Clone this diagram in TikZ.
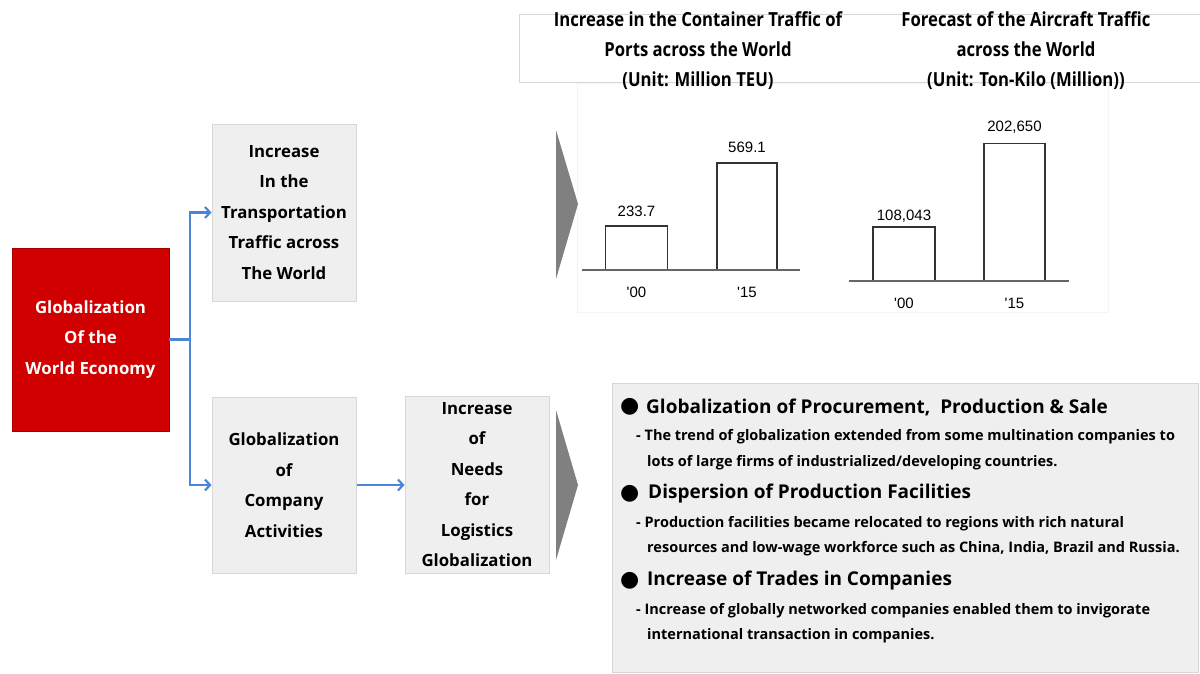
\documentclass[tikz,border=0pt]{standalone}
\usepackage{fontspec}
\setmainfont{Open Sans}
\newfontfamily\numfont{Liberation Sans}
\newfontfamily\symfont{DejaVu Sans}
\newfontfamily\condfont[FakeStretch=0.86]{Open Sans}
\usetikzlibrary{arrows.meta}
\definecolor{redbox}{RGB}{208,0,0}
\definecolor{boxfill}{RGB}{239,239,239}
\definecolor{boxline}{RGB}{215,215,215}
\definecolor{arrowblue}{RGB}{74,134,216}
\definecolor{trigray}{RGB}{128,128,128}
\begin{document}
\begin{tikzpicture}[x=1pt,y=-1pt,
  graybox/.style={draw=boxline, fill=boxfill, line width=1pt, inner sep=0pt,
    minimum width=144pt, align=center,
    font=\bfseries\fontsize{16.8}{30.5}\selectfont},
  redbx/.style={fill=redbox, draw=redbox!80!black, line width=0.5pt, inner sep=0pt,
    minimum width=157pt, minimum height=183pt, align=center, text=white,
    font=\bfseries\fontsize{16.8}{30.5}\selectfont},
  bluearrow/.style={draw=arrowblue, line width=2.2pt, -{Straight Barb[length=5pt,width=11pt,line width=2.2pt]}},
  bluewire/.style={draw=arrowblue, line width=2.2pt},
  arrowtri/.style={fill=trigray, draw=none},
  bar/.style={draw=black!80, line width=1.3pt, fill=white},
  axisline/.style={draw=black!60, line width=2pt},
  numlabel/.style={font=\numfont\fontsize{15}{16}\selectfont, inner sep=0pt},
  charttitle/.style={font=\condfont\bfseries\fontsize{19.4}{30}\selectfont, align=center, inner sep=0pt},
  heading/.style={anchor=west, inner sep=0pt, font=\bfseries\fontsize{19}{20}\selectfont},
  subline/.style={anchor=west, inner sep=0pt, font=\bfseries\fontsize{14.5}{15}\selectfont},
  bulletsym/.style={anchor=west, inner sep=0pt, font=\symfont\fontsize{22}{22}\selectfont}
]
\useasboundingbox (0,0) rectangle (1200,673);

% ---------- left flow ----------
\node[redbx] (globe) at (90.5,339.5) {Globalization\\Of the\\World Economy};
\node[graybox, minimum height=177pt] (transp) at (284,212.5) {Increase\\In the\\Transportation\\Traffic across\\The World};
\node[graybox, minimum height=176pt] (company) at (284,485) {Globalization\\of\\Company\\Activities};
\node[graybox, minimum height=177pt] (needs) at (477,484.5) {Increase\\of\\Needs\\for\\Logistics\\Globalization};

\coordinate (split) at (190,339.5);
\draw[bluewire] (globe.east) -- (split);
\draw[bluearrow] (split) |- (transp.west);
\draw[bluearrow] (split) |- (company.west);
\draw[bluearrow] (company.east) -- (company.east -| needs.west);

% ---------- top chart panel ----------
\draw[draw=boxline, line width=0.8pt] (1200,14) -- (519,14) -- (519,82) -- (1200,82);
\path[fill=white, draw=black!4, line width=0.6pt] (577,83) rectangle (1108,312);

\node[charttitle] (t1) at (698,51) {Increase in the Container Traffic of\\Ports across the World\\(Unit: Million TEU)};
\node[charttitle] (t2) at (1026,51) {Forecast of the Aircraft Traffic\\across the World\\(Unit: Ton-Kilo (Million))};

\path[arrowtri] (556,130) -- (578,204) -- (556,279) -- cycle;

% chart 1
\draw[bar] (605.5,270) rectangle (667.5,226);
\draw[bar] (717,270) rectangle (777,163);
\draw[axisline] (582,270) -- (800,270);
\node[numlabel] (v1) at (636.5,211) {233.7};
\node[numlabel] (v2) at (747,147) {569.1};
\node[numlabel] (y1) at (636.5,292) {'00};
\node[numlabel] (y2) at (747,292) {'15};

% chart 2
\draw[bar] (873,281) rectangle (935,227);
\draw[bar] (984,281) rectangle (1045,143.5);
\draw[axisline] (849,281) -- (1069,281);
\node[numlabel] (w1) at (904,216) {108,043};
\node[numlabel] (w2) at (1014.5,127) {202,650};
\node[numlabel] (z1) at (904,303) {'00};
\node[numlabel] (z2) at (1014.5,303) {'15};

% ---------- bottom text panel ----------
\path[arrowtri] (556,410) -- (578,485) -- (556,560) -- cycle;
\path[fill=boxfill, draw=boxline, line width=0.8pt] (612,383) rectangle (1198,672);

\node[bulletsym] (b1) at (620,407) {●};
\node[heading] (h1) at (646,407) {Globalization of Procurement,\ \ Production \& Sale};
\node[subline] (s1a) at (636,437) {- The trend of globalization extended from some multination companies to};
\node[subline] (s1b) at (647,463) {lots of large firms of industrialized/developing countries.};

\node[bulletsym] (b2) at (620,494) {●};
\node[heading] (h2) at (648,494) {Dispersion of Production Facilities};
\node[subline] (s2a) at (636,524) {- Production facilities became relocated to regions with rich natural};
\node[subline] (s2b) at (647,549) {resources and low-wage workforce such as China, India, Brazil and Russia.};

\node[bulletsym] (b3) at (620,581) {●};
\node[heading] (h3) at (647,581) {Increase of Trades in Companies};
\node[subline] (s3a) at (636,611) {- Increase of globally networked companies enabled them to invigorate};
\node[subline] (s3b) at (647,636) {international transaction in companies.};
\end{tikzpicture}
\end{document}
